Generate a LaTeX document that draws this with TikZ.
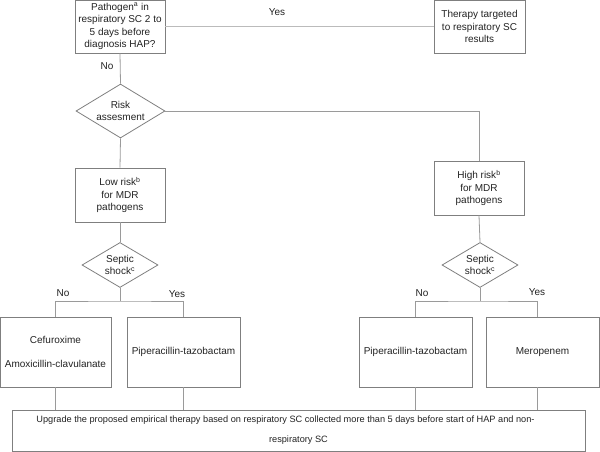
\documentclass[tikz,border=0pt]{standalone}
\usepackage{fontspec}
\setmainfont{Liberation Sans}
\usetikzlibrary{shapes.geometric}
\definecolor{boxc}{HTML}{7F7F7F}
\definecolor{linec}{HTML}{9A9A9A}
\definecolor{yesc}{HTML}{BBBBBB}
\definecolor{txt}{HTML}{222222}
\begin{document}
\begin{tikzpicture}[x=1pt,y=1pt,
 box/.style={draw=boxc, line width=0.8pt, inner sep=0pt, align=center, text=txt, font=\fontsize{10}{12.5}\selectfont},
 dia/.style={box, diamond, aspect=1.65},
 conn/.style={draw=linec, line width=0.8pt},
 lab/.style={text=txt, font=\fontsize{10}{12}\selectfont, inner sep=0pt}]
\useasboundingbox (0,0) rectangle (600,-452);
% nodes
\node[box, minimum width=90, minimum height=53] (p1) at (120,-26.5) {Pathogen\textsuperscript{a} in\\respiratory SC 2 to\\5 days before\\diagnosis HAP?};
\node[box, minimum width=91, minimum height=53] (t1) at (479.5,-26.5) {Therapy targeted\\to respiratory SC\\results};
\node[dia, minimum width=89, minimum height=54] (d1) at (120.5,-111) {Risk\\assesment};
\node[box, minimum width=90, minimum height=54] (low) at (120,-195) {Low risk\textsuperscript{b}\\for MDR\\pathogens};
\node[box, minimum width=90, minimum height=54] (high) at (479,-188) {High risk\textsuperscript{b}\\for MDR\\pathogens};
\node[dia, minimum width=76, minimum height=45, aspect=1.69] (s1) at (120,-265) {Septic\\shock\textsuperscript{c}};
\node[dia, minimum width=76, minimum height=45, aspect=1.69] (s2) at (480,-265) {Septic\\shock\textsuperscript{c}};
\node[box, minimum width=111, minimum height=70] (c1) at (55.5,-352) {Cefuroxime\\[11.5pt]Amoxicillin-clavulanate};
\node[box, minimum width=113, minimum height=70] (c2) at (183.5,-352) {Piperacillin-tazobactam};
\node[box, minimum width=113, minimum height=70] (c3) at (415.5,-352) {Piperacillin-tazobactam};
\node[box, minimum width=113, minimum height=70] (c4) at (542.5,-352) {Meropenem};
\node[box, minimum width=573, minimum height=41, font=\fontsize{9.2}{20}\selectfont] (up) at (298.5,-430.5) {Upgrade the proposed empirical therapy based on respiratory SC collected more than 5 days before start of HAP and non-\hspace*{26pt}\\respiratory SC};
% labels
\node[lab] (lyes) at (277,-12) {Yes};
\node[lab] (lno) at (107,-66) {No};
\node[lab] (lno1) at (63,-293) {No};
\node[lab] (lyes1) at (177,-294) {Yes};
\node[lab] (lno2) at (422,-293) {No};
\node[lab] (lyes2) at (537,-292) {Yes};
% connectors
\coordinate (b1) at (120,-301);
\coordinate (b2) at (480,-301);
\draw[conn, draw=yesc] (p1.east) -- (t1.west);
\draw[conn] (p1.south) -- (d1.north);
\draw[conn] (d1.south) -- (low.north);
\draw[conn] (d1.east) -| (high.north);
\draw[conn] (low.south) -- (s1.north);
\draw[conn] (high.south) -- (s2.north);
\draw[conn] (s1.south) -- (b1);
\draw[conn] (c1.north) |- (b1) -| (c2.north);
\draw[conn] (s2.south) -- (b2);
\draw[conn] (c3.north) |- (b2) -| ([xshift=-5.5pt]c4.north);
\draw[conn] (c1.south) -- (c1.south |- up.north);
\draw[conn] (c2.south) -- (c2.south |- up.north);
\draw[conn] (c3.south) -- (c3.south |- up.north);
\draw[conn] ([xshift=-5.5pt]c4.south) -- ([xshift=-5.5pt]c4.south |- up.north);
\end{tikzpicture}
\end{document}
